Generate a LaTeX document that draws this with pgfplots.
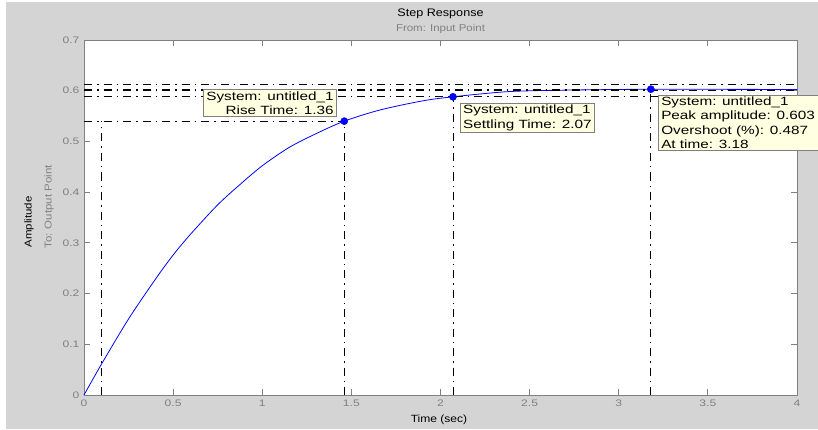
\documentclass[border=0pt]{standalone}
\usepackage{fontspec}
\setmainfont{Liberation Sans}[FakeStretch=1.15]
\newfontfamily\wide{Liberation Sans}[FakeStretch=1.28]
\usepackage{pgfplots}
\pgfplotsset{compat=1.18}
\definecolor{bg}{RGB}{212,212,212}
\definecolor{axgray}{RGB}{128,128,128}
\definecolor{tipfill}{RGB}{255,255,225}
\definecolor{curve}{RGB}{0,0,255}
\tikzset{dd/.style={black, line width=0.8pt, dash pattern=on 8bp off 5bp on 1.5bp off 5bp}}
\begin{document}
\begin{tikzpicture}[x=1bp,y=1bp]
\fill[white] (0,0) rectangle (818,429);
\fill[bg] (6,0) rectangle (818,427);
\useasboundingbox (0,0) rectangle (818,429);
\begin{axis}[
  at={(84bp,34bp)}, anchor=south west, scale only axis,
  width=713bp, height=355bp,
  xmin=0, xmax=4, ymin=0, ymax=0.7,
  xtick={0,0.5,1,1.5,2,2.5,3,3.5,4},
  ytick={0,0.1,0.2,0.3,0.4,0.5,0.6,0.7},
  tick align=inside, major tick length=6bp,
  axis line style={axgray, line width=0.8pt},
  tick style={axgray, line width=0.8pt},
  every tick label/.append style={text=axgray, font=\wide\fontsize{9.5}{11}\selectfont},
  /pgf/number format/assume math mode=true,
  xticklabel style={yshift=-1bp},
  yticklabel style={xshift=-1bp},
  clip=false,
  axis background/.style={fill=white},
]
\addplot[curve, line width=0.8pt, smooth, tension=0.5] coordinates {
(0,0) (0.1,0.062) (0.25,0.150) (0.4,0.228) (0.5,0.276) (0.6,0.318)
(0.75,0.375) (0.875,0.415) (1.0,0.452) (1.15,0.488) (1.3,0.515)
(1.46,0.540) (1.66,0.562) (1.90,0.580) (2.07,0.588) (2.37,0.598)
(2.67,0.601) (3.18,0.603) (3.6,0.6027) (4.0,0.6025)};
\addplot[dd] coordinates {(0,0.612) (4,0.612)};
\addplot[dd] coordinates {(0,0.600) (4,0.600)};
\addplot[dd] coordinates {(0,0.603) (3.18,0.603)};
\addplot[dd] coordinates {(0,0.588) (4,0.588)};
\addplot[dd] coordinates {(0,0.54) (1.46,0.54)};
\addplot[dd] coordinates {(0.1,0) (0.1,0.54)};
\addplot[dd] coordinates {(1.46,0) (1.46,0.54)};
\addplot[dd] coordinates {(2.07,0) (2.07,0.588)};
\addplot[dd] coordinates {(3.18,0) (3.18,0.603)};
\addplot[only marks, mark=*, mark size=3.6bp, curve] coordinates {(1.46,0.54) (2.07,0.588) (3.18,0.603)};
\coordinate (tipA) at (axis cs:1.419,0.548);
\coordinate (tipB) at (axis cs:2.109,0.576);
\coordinate (tipC) at (axis cs:3.220,0.592);
\end{axis}
\tikzset{tip/.style={draw=axgray, fill=tipfill, line width=0.6pt, inner xsep=3bp, inner ysep=2bp,
  font=\wide\fontsize{12}{14.3}\selectfont}}
\node[tip, anchor=south east, align=right] at (tipA) {System: untitled\_1\\Rise Time: 1.36};
\node[tip, anchor=north west, align=left] at (tipB) {System: untitled\_1\\Settling Time: 2.07};
\node[tip, anchor=north west, align=left] at (tipC) {System: untitled\_1\\Peak amplitude: 0.603\\Overshoot (\%): 0.487\\At time: 3.18};
\node[font=\fontsize{11}{13}\selectfont] at (440.5,415) {Step Response};
\node[font=\fontsize{10}{12}\selectfont, text=axgray] at (440.5,400) {From: Input Point};
\node[font=\fontsize{10.5}{12}\selectfont] at (439,9) {Time (sec)};
\node[font=\fontsize{10}{12}\selectfont, rotate=90] at (29,207) {Amplitude};
\node[font=\fontsize{10}{12}\selectfont, rotate=90, text=axgray] at (49,222) {To: Output Point};
\end{tikzpicture}
\end{document}
